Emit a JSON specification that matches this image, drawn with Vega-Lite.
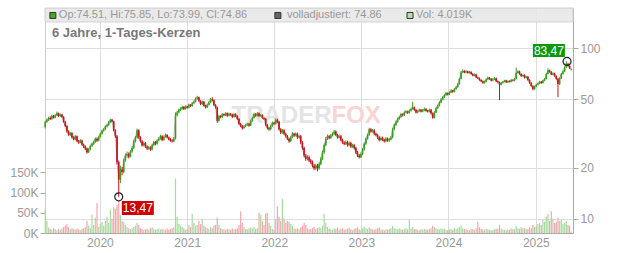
{
"$schema":"https://vega.github.io/schema/vega-lite/v6.json",
"width":528,"height":225,
"autosize":{"type":"none"},
"padding":{"left":45,"top":8,"right":59,"bottom":20},
"background":"#ffffff",
"config":{"view":{"stroke":"#cccccc"},"font":"Liberation Sans","axis":{"labelFont":"Liberation Sans","labelFontSize":12,"labelColor":"#999999","tickColor":"#aaaaaa","domainColor":"#aaaaaa","gridColor":"#dddddd"}},
"datasets":{"px":[
{"t":"2019-05-17","o":34.5,"h":37.5,"l":33.8,"c":37,"v":60},
{"t":"2019-05-24","o":37,"h":38.6,"l":36.5,"c":38,"v":30},
{"t":"2019-05-31","o":38,"h":39.6,"l":37.4,"c":39,"v":14},
{"t":"2019-06-07","o":39,"h":39.8,"l":37.9,"c":38.5,"v":10},
{"t":"2019-06-14","o":38.5,"h":40.7,"l":38,"c":40,"v":8},
{"t":"2019-06-21","o":40,"h":40.6,"l":38.7,"c":39.2,"v":12},
{"t":"2019-06-28","o":39.2,"h":41,"l":38.8,"c":40.5,"v":9},
{"t":"2019-07-05","o":40.5,"h":42.5,"l":40,"c":41.5,"v":7},
{"t":"2019-07-12","o":41.5,"h":41.9,"l":39.5,"c":40,"v":10},
{"t":"2019-07-19","o":40,"h":41.4,"l":39.6,"c":40.8,"v":8},
{"t":"2019-07-26","o":40.8,"h":41.2,"l":39,"c":39.5,"v":11},
{"t":"2019-08-02","o":39.5,"h":39.9,"l":36.5,"c":37,"v":15},
{"t":"2019-08-09","o":37,"h":37.5,"l":34.5,"c":35,"v":18},
{"t":"2019-08-16","o":35,"h":35.4,"l":32,"c":32.5,"v":22},
{"t":"2019-08-23","o":32.5,"h":33,"l":30.6,"c":31,"v":14},
{"t":"2019-08-30","o":31,"h":32.3,"l":30.6,"c":31.8,"v":9},
{"t":"2019-09-06","o":31.8,"h":32.2,"l":29.6,"c":30,"v":12},
{"t":"2019-09-13","o":30,"h":30.5,"l":28.8,"c":29.2,"v":10},
{"t":"2019-09-20","o":29.2,"h":31,"l":28.9,"c":30.5,"v":8},
{"t":"2019-09-27","o":30.5,"h":30.8,"l":28.1,"c":28.5,"v":11},
{"t":"2019-10-04","o":28.5,"h":29,"l":27.5,"c":28,"v":9},
{"t":"2019-10-11","o":28,"h":29.3,"l":27.7,"c":28.8,"v":7},
{"t":"2019-10-18","o":28.8,"h":29.1,"l":26.8,"c":27.2,"v":10},
{"t":"2019-10-25","o":27.2,"h":27.6,"l":26,"c":26.5,"v":12},
{"t":"2019-11-01","o":26.5,"h":26.9,"l":25.3,"c":25.8,"v":14},
{"t":"2019-11-08","o":25.8,"h":26.2,"l":24.1,"c":24.6,"v":30},
{"t":"2019-11-15","o":24.6,"h":26,"l":24.3,"c":25.5,"v":18},
{"t":"2019-11-22","o":25.5,"h":27.2,"l":25.2,"c":26.8,"v":12},
{"t":"2019-11-29","o":26.8,"h":28,"l":26.4,"c":27.5,"v":45},
{"t":"2019-12-06","o":27.5,"h":28.7,"l":27.1,"c":28.2,"v":20},
{"t":"2019-12-13","o":28.2,"h":30,"l":27.9,"c":29.5,"v":38},
{"t":"2019-12-20","o":29.5,"h":30,"l":28.2,"c":28.8,"v":74},
{"t":"2019-12-27","o":28.8,"h":30.7,"l":28.5,"c":30.2,"v":15},
{"t":"2020-01-03","o":30.2,"h":32,"l":29.9,"c":31.5,"v":22},
{"t":"2020-01-10","o":31.5,"h":33.3,"l":31.1,"c":32.8,"v":28},
{"t":"2020-01-17","o":32.8,"h":34,"l":32.4,"c":33.5,"v":18},
{"t":"2020-01-24","o":33.5,"h":35.3,"l":33.1,"c":34.8,"v":30},
{"t":"2020-01-31","o":34.8,"h":36.1,"l":34.3,"c":35.5,"v":40},
{"t":"2020-02-07","o":35.5,"h":37.4,"l":35.1,"c":36.8,"v":25},
{"t":"2020-02-14","o":36.8,"h":38.6,"l":36.3,"c":38,"v":57},
{"t":"2020-02-21","o":38,"h":38.5,"l":36.7,"c":37.2,"v":35},
{"t":"2020-02-28","o":37.2,"h":37.6,"l":32.5,"c":33,"v":64},
{"t":"2020-03-06","o":33,"h":33.5,"l":29.8,"c":30.5,"v":60},
{"t":"2020-03-13","o":30.5,"h":31,"l":20.8,"c":21.5,"v":70},
{"t":"2020-03-20","o":21.5,"h":22,"l":13.47,"c":17,"v":81},
{"t":"2020-03-27","o":17,"h":20.5,"l":16.2,"c":19.5,"v":45},
{"t":"2020-04-03","o":19.5,"h":20.2,"l":18,"c":18.8,"v":30},
{"t":"2020-04-10","o":18.8,"h":22.6,"l":18.5,"c":22,"v":28},
{"t":"2020-04-17","o":22,"h":24.2,"l":21.6,"c":23.5,"v":20},
{"t":"2020-04-24","o":23.5,"h":24.8,"l":22.8,"c":24,"v":15},
{"t":"2020-05-01","o":24,"h":24.5,"l":22.6,"c":23.2,"v":12},
{"t":"2020-05-08","o":23.2,"h":25.3,"l":22.9,"c":24.8,"v":10},
{"t":"2020-05-15","o":24.8,"h":26.6,"l":24.4,"c":26,"v":12},
{"t":"2020-05-22","o":26,"h":29.1,"l":25.7,"c":28.5,"v":15},
{"t":"2020-05-29","o":28.5,"h":30.6,"l":28,"c":30,"v":18},
{"t":"2020-06-05","o":30,"h":33.8,"l":29.6,"c":33,"v":25},
{"t":"2020-06-12","o":33,"h":33.5,"l":29.4,"c":30,"v":20},
{"t":"2020-06-19","o":30,"h":30.5,"l":28,"c":28.5,"v":12},
{"t":"2020-06-26","o":28.5,"h":29,"l":26.5,"c":27,"v":10},
{"t":"2020-07-03","o":27,"h":28.4,"l":26.6,"c":27.8,"v":8},
{"t":"2020-07-10","o":27.8,"h":28.2,"l":26,"c":26.5,"v":9},
{"t":"2020-07-17","o":26.5,"h":27,"l":25.3,"c":25.8,"v":10},
{"t":"2020-07-24","o":25.8,"h":26.8,"l":25.4,"c":26.2,"v":8},
{"t":"2020-07-31","o":26.2,"h":26.6,"l":25,"c":25.5,"v":12},
{"t":"2020-08-07","o":25.5,"h":27.5,"l":25.2,"c":27,"v":14},
{"t":"2020-08-14","o":27,"h":28.7,"l":26.7,"c":28.2,"v":10},
{"t":"2020-08-21","o":28.2,"h":28.6,"l":27,"c":27.5,"v":8},
{"t":"2020-08-28","o":27.5,"h":29.3,"l":27.2,"c":28.8,"v":9},
{"t":"2020-09-04","o":28.8,"h":30.1,"l":28.4,"c":29.5,"v":11},
{"t":"2020-09-11","o":29.5,"h":31.1,"l":29.1,"c":30.5,"v":9},
{"t":"2020-09-18","o":30.5,"h":30.9,"l":28.5,"c":29,"v":10},
{"t":"2020-09-25","o":29,"h":30.8,"l":28.7,"c":30.2,"v":8},
{"t":"2020-10-02","o":30.2,"h":31.6,"l":29.9,"c":31,"v":9},
{"t":"2020-10-09","o":31,"h":31.4,"l":29.6,"c":30,"v":11},
{"t":"2020-10-16","o":30,"h":30.4,"l":28.8,"c":29.2,"v":8},
{"t":"2020-10-23","o":29.2,"h":29.7,"l":28.3,"c":28.8,"v":10},
{"t":"2020-10-30","o":28.8,"h":29.3,"l":28,"c":28.5,"v":12},
{"t":"2020-11-06","o":28.5,"h":30.1,"l":28.2,"c":29.5,"v":14},
{"t":"2020-11-13","o":29.5,"h":42,"l":29.2,"c":40.5,"v":135},
{"t":"2020-11-20","o":40.5,"h":42.8,"l":39.8,"c":42,"v":40},
{"t":"2020-11-27","o":42,"h":44.3,"l":41.5,"c":43.5,"v":22},
{"t":"2020-12-04","o":43.5,"h":45,"l":42.8,"c":44,"v":18},
{"t":"2020-12-11","o":44,"h":46,"l":43.5,"c":45.2,"v":15},
{"t":"2020-12-18","o":45.2,"h":45.8,"l":43.4,"c":44,"v":12},
{"t":"2020-12-25","o":44,"h":46.2,"l":43.6,"c":45.5,"v":8},
{"t":"2021-01-01","o":45.5,"h":46,"l":44.2,"c":44.8,"v":10},
{"t":"2021-01-08","o":44.8,"h":47.3,"l":44.3,"c":46.5,"v":20},
{"t":"2021-01-15","o":46.5,"h":47,"l":45.2,"c":45.8,"v":15},
{"t":"2021-01-22","o":45.8,"h":48.3,"l":45.3,"c":47.5,"v":47},
{"t":"2021-01-29","o":47.5,"h":49.3,"l":47,"c":48.5,"v":25},
{"t":"2021-02-05","o":48.5,"h":51.4,"l":48,"c":50.5,"v":18},
{"t":"2021-02-12","o":50.5,"h":52.5,"l":50,"c":51.5,"v":20},
{"t":"2021-02-19","o":51.5,"h":52,"l":48.4,"c":49,"v":30},
{"t":"2021-02-26","o":49,"h":49.5,"l":46.3,"c":47,"v":22},
{"t":"2021-03-05","o":47,"h":49.3,"l":46.5,"c":48.5,"v":35},
{"t":"2021-03-12","o":48.5,"h":49,"l":45.4,"c":46,"v":18},
{"t":"2021-03-19","o":46,"h":46.6,"l":44.3,"c":45,"v":14},
{"t":"2021-03-26","o":45,"h":47.3,"l":44.6,"c":46.5,"v":12},
{"t":"2021-04-02","o":46.5,"h":48.8,"l":46,"c":48,"v":10},
{"t":"2021-04-09","o":48,"h":51,"l":47.5,"c":50,"v":15},
{"t":"2021-04-16","o":50,"h":51.5,"l":48.8,"c":49.5,"v":12},
{"t":"2021-04-23","o":49.5,"h":50,"l":45.8,"c":46.5,"v":18},
{"t":"2021-04-30","o":46.5,"h":47,"l":44.2,"c":45,"v":20},
{"t":"2021-05-07","o":45,"h":45.5,"l":36.5,"c":37.5,"v":38},
{"t":"2021-05-14","o":37.5,"h":40.6,"l":37,"c":40,"v":20},
{"t":"2021-05-21","o":40,"h":40.5,"l":38.8,"c":39.5,"v":12},
{"t":"2021-05-28","o":39.5,"h":41.6,"l":39,"c":41,"v":10},
{"t":"2021-06-04","o":41,"h":41.5,"l":39.9,"c":40.5,"v":9},
{"t":"2021-06-11","o":40.5,"h":42.2,"l":40,"c":41.5,"v":8},
{"t":"2021-06-18","o":41.5,"h":42,"l":39.6,"c":40.2,"v":10},
{"t":"2021-06-25","o":40.2,"h":41.8,"l":39.8,"c":41.2,"v":9},
{"t":"2021-07-02","o":41.2,"h":41.7,"l":40.2,"c":40.8,"v":8},
{"t":"2021-07-09","o":40.8,"h":41.3,"l":38.9,"c":39.5,"v":11},
{"t":"2021-07-16","o":39.5,"h":41.6,"l":39.1,"c":41,"v":9},
{"t":"2021-07-23","o":41,"h":41.5,"l":39.4,"c":40,"v":10},
{"t":"2021-07-30","o":40,"h":40.5,"l":37.9,"c":38.5,"v":12},
{"t":"2021-08-06","o":38.5,"h":39,"l":35.4,"c":36,"v":20},
{"t":"2021-08-13","o":36,"h":36.5,"l":34.4,"c":35,"v":54},
{"t":"2021-08-20","o":35,"h":35.5,"l":33.3,"c":34,"v":25},
{"t":"2021-08-27","o":34,"h":35.4,"l":33.6,"c":34.8,"v":14},
{"t":"2021-09-03","o":34.8,"h":36.1,"l":34.4,"c":35.5,"v":10},
{"t":"2021-09-10","o":35.5,"h":36.6,"l":35,"c":36,"v":9},
{"t":"2021-09-17","o":36,"h":36.5,"l":34.6,"c":35.2,"v":11},
{"t":"2021-09-24","o":35.2,"h":38.1,"l":34.9,"c":37.5,"v":14},
{"t":"2021-10-01","o":37.5,"h":39.7,"l":37,"c":39,"v":12},
{"t":"2021-10-08","o":39,"h":41.8,"l":38.6,"c":41,"v":15},
{"t":"2021-10-15","o":41,"h":41.6,"l":39.6,"c":40.2,"v":10},
{"t":"2021-10-22","o":40.2,"h":42.2,"l":39.8,"c":41.5,"v":12},
{"t":"2021-10-29","o":41.5,"h":42,"l":39.4,"c":40,"v":50},
{"t":"2021-11-05","o":40,"h":41.2,"l":39.6,"c":40.5,"v":45},
{"t":"2021-11-12","o":40.5,"h":41,"l":38.5,"c":39,"v":30},
{"t":"2021-11-19","o":39,"h":39.5,"l":37.9,"c":38.5,"v":20},
{"t":"2021-11-26","o":38.5,"h":39,"l":34.8,"c":35.5,"v":48},
{"t":"2021-12-03","o":35.5,"h":36,"l":33.4,"c":34,"v":50},
{"t":"2021-12-10","o":34,"h":34.6,"l":32.8,"c":33.5,"v":25},
{"t":"2021-12-17","o":33.5,"h":35.6,"l":33.1,"c":35,"v":18},
{"t":"2021-12-24","o":35,"h":37.2,"l":34.6,"c":36.5,"v":10},
{"t":"2021-12-31","o":36.5,"h":37,"l":35.4,"c":36,"v":8},
{"t":"2022-01-07","o":36,"h":38.8,"l":35.6,"c":38,"v":35},
{"t":"2022-01-14","o":38,"h":38.6,"l":36.4,"c":37,"v":66},
{"t":"2022-01-21","o":37,"h":37.5,"l":32.9,"c":33.5,"v":40},
{"t":"2022-01-28","o":33.5,"h":34,"l":31.4,"c":32,"v":30},
{"t":"2022-02-04","o":32,"h":33.6,"l":31.5,"c":33,"v":84},
{"t":"2022-02-11","o":33,"h":33.5,"l":30.9,"c":31.5,"v":35},
{"t":"2022-02-18","o":31.5,"h":32,"l":29.9,"c":30.5,"v":25},
{"t":"2022-02-25","o":30.5,"h":31,"l":28.9,"c":29.5,"v":30},
{"t":"2022-03-04","o":29.5,"h":30,"l":27.9,"c":28.5,"v":28},
{"t":"2022-03-11","o":28.5,"h":30.6,"l":28.1,"c":30,"v":22},
{"t":"2022-03-18","o":30,"h":32.2,"l":29.6,"c":31.5,"v":18},
{"t":"2022-03-25","o":31.5,"h":32,"l":30.2,"c":30.8,"v":12},
{"t":"2022-04-01","o":30.8,"h":32.1,"l":30.4,"c":31.5,"v":10},
{"t":"2022-04-08","o":31.5,"h":32,"l":29.4,"c":30,"v":12},
{"t":"2022-04-15","o":30,"h":31.1,"l":29.6,"c":30.5,"v":9},
{"t":"2022-04-22","o":30.5,"h":31,"l":27.4,"c":28,"v":14},
{"t":"2022-04-29","o":28,"h":28.5,"l":25.4,"c":26,"v":18},
{"t":"2022-05-06","o":26,"h":26.5,"l":22.9,"c":23.5,"v":25},
{"t":"2022-05-13","o":23.5,"h":24,"l":21.9,"c":22.5,"v":20},
{"t":"2022-05-20","o":22.5,"h":23.6,"l":22,"c":23,"v":12},
{"t":"2022-05-27","o":23,"h":23.5,"l":21.5,"c":22,"v":10},
{"t":"2022-06-03","o":22,"h":22.5,"l":21,"c":21.5,"v":9},
{"t":"2022-06-10","o":21.5,"h":22,"l":20,"c":20.5,"v":12},
{"t":"2022-06-17","o":20.5,"h":21,"l":19.3,"c":19.8,"v":15},
{"t":"2022-06-24","o":19.8,"h":21,"l":19.4,"c":20.5,"v":10},
{"t":"2022-07-01","o":20.5,"h":21,"l":19,"c":19.8,"v":12},
{"t":"2022-07-08","o":19.8,"h":21.5,"l":19.4,"c":21,"v":14},
{"t":"2022-07-15","o":21,"h":23,"l":20.6,"c":22.5,"v":12},
{"t":"2022-07-22","o":22.5,"h":25.1,"l":22.1,"c":24.5,"v":18},
{"t":"2022-07-29","o":24.5,"h":27.6,"l":24.1,"c":27,"v":47},
{"t":"2022-08-05","o":27,"h":30.2,"l":26.6,"c":29.5,"v":25},
{"t":"2022-08-12","o":29.5,"h":31.2,"l":29,"c":30.5,"v":15},
{"t":"2022-08-19","o":30.5,"h":31,"l":29.2,"c":29.8,"v":10},
{"t":"2022-08-26","o":29.8,"h":31.4,"l":29.4,"c":30.8,"v":9},
{"t":"2022-09-02","o":30.8,"h":32.1,"l":30.4,"c":31.5,"v":8},
{"t":"2022-09-09","o":31.5,"h":33.2,"l":31,"c":32.5,"v":12},
{"t":"2022-09-16","o":32.5,"h":33,"l":30.5,"c":31,"v":10},
{"t":"2022-09-23","o":31,"h":31.5,"l":29.5,"c":30,"v":14},
{"t":"2022-09-30","o":30,"h":31.1,"l":29.6,"c":30.5,"v":9},
{"t":"2022-10-07","o":30.5,"h":31,"l":28.5,"c":29,"v":10},
{"t":"2022-10-14","o":29,"h":29.5,"l":27.5,"c":28,"v":12},
{"t":"2022-10-21","o":28,"h":28.5,"l":27,"c":27.5,"v":8},
{"t":"2022-10-28","o":27.5,"h":28.8,"l":27.1,"c":28.2,"v":9},
{"t":"2022-11-04","o":28.2,"h":28.7,"l":26.5,"c":27,"v":11},
{"t":"2022-11-11","o":27,"h":28.4,"l":26.6,"c":27.8,"v":13},
{"t":"2022-11-18","o":27.8,"h":28.3,"l":26,"c":26.5,"v":9},
{"t":"2022-11-25","o":26.5,"h":27.5,"l":26.1,"c":27,"v":7},
{"t":"2022-12-02","o":27,"h":27.5,"l":25.5,"c":26,"v":10},
{"t":"2022-12-09","o":26,"h":26.5,"l":24,"c":24.5,"v":12},
{"t":"2022-12-16","o":24.5,"h":25,"l":23,"c":23.5,"v":14},
{"t":"2022-12-23","o":23.5,"h":24,"l":22.6,"c":23,"v":9},
{"t":"2022-12-30","o":23,"h":24.5,"l":22.7,"c":24,"v":8},
{"t":"2023-01-06","o":24,"h":26,"l":23.6,"c":25.5,"v":12},
{"t":"2023-01-13","o":25.5,"h":28,"l":25.1,"c":27.5,"v":15},
{"t":"2023-01-20","o":27.5,"h":30,"l":27.1,"c":29.5,"v":12},
{"t":"2023-01-27","o":29.5,"h":31.6,"l":29.1,"c":31,"v":10},
{"t":"2023-02-03","o":31,"h":34.2,"l":30.6,"c":33.5,"v":14},
{"t":"2023-02-10","o":33.5,"h":34,"l":31.9,"c":32.5,"v":10},
{"t":"2023-02-17","o":32.5,"h":33.6,"l":32,"c":33,"v":9},
{"t":"2023-02-24","o":33,"h":33.5,"l":30.9,"c":31.5,"v":8},
{"t":"2023-03-03","o":31.5,"h":32,"l":30.4,"c":31,"v":10},
{"t":"2023-03-10","o":31,"h":31.5,"l":29.4,"c":30,"v":12},
{"t":"2023-03-17","o":30,"h":30.5,"l":28.4,"c":29,"v":14},
{"t":"2023-03-24","o":29,"h":30.4,"l":28.6,"c":29.8,"v":9},
{"t":"2023-03-31","o":29.8,"h":30.3,"l":28.5,"c":29,"v":8},
{"t":"2023-04-07","o":29,"h":29.5,"l":28,"c":28.5,"v":7},
{"t":"2023-04-14","o":28.5,"h":30.1,"l":28.1,"c":29.5,"v":9},
{"t":"2023-04-21","o":29.5,"h":30,"l":28.3,"c":28.8,"v":8},
{"t":"2023-04-28","o":28.8,"h":29.8,"l":28.3,"c":29.2,"v":10},
{"t":"2023-05-05","o":29.2,"h":30.6,"l":28.8,"c":30,"v":12},
{"t":"2023-05-12","o":30,"h":34.2,"l":29.6,"c":33.5,"v":18},
{"t":"2023-05-19","o":33.5,"h":36.2,"l":33,"c":35.5,"v":12},
{"t":"2023-05-26","o":35.5,"h":37.7,"l":35,"c":37,"v":10},
{"t":"2023-06-02","o":37,"h":39.2,"l":36.5,"c":38.5,"v":9},
{"t":"2023-06-09","o":38.5,"h":40.2,"l":38,"c":39.5,"v":11},
{"t":"2023-06-16","o":39.5,"h":41.8,"l":39,"c":41,"v":9},
{"t":"2023-06-23","o":41,"h":41.5,"l":39.8,"c":40.5,"v":8},
{"t":"2023-06-30","o":40.5,"h":42.7,"l":40,"c":42,"v":10},
{"t":"2023-07-07","o":42,"h":43.3,"l":41.4,"c":42.5,"v":12},
{"t":"2023-07-14","o":42.5,"h":43,"l":41.2,"c":41.8,"v":9},
{"t":"2023-07-21","o":41.8,"h":43.7,"l":41.3,"c":43,"v":34},
{"t":"2023-07-28","o":43,"h":44.8,"l":42.5,"c":44,"v":12},
{"t":"2023-08-04","o":44,"h":48.5,"l":43.5,"c":45,"v":15},
{"t":"2023-08-11","o":45,"h":45.5,"l":42.9,"c":43.5,"v":10},
{"t":"2023-08-18","o":43.5,"h":44,"l":41.4,"c":42,"v":9},
{"t":"2023-08-25","o":42,"h":43.5,"l":41.5,"c":42.8,"v":8},
{"t":"2023-09-01","o":42.8,"h":44.2,"l":42.3,"c":43.5,"v":7},
{"t":"2023-09-08","o":43.5,"h":44,"l":42,"c":42.5,"v":9},
{"t":"2023-09-15","o":42.5,"h":44,"l":42,"c":43.2,"v":8},
{"t":"2023-09-22","o":43.2,"h":44.8,"l":42.7,"c":44,"v":10},
{"t":"2023-09-29","o":44,"h":44.5,"l":42.4,"c":43,"v":9},
{"t":"2023-10-06","o":43,"h":43.5,"l":41.9,"c":42.5,"v":8},
{"t":"2023-10-13","o":42.5,"h":44.2,"l":42,"c":43.5,"v":10},
{"t":"2023-10-20","o":43.5,"h":44,"l":40.9,"c":41.5,"v":12},
{"t":"2023-10-27","o":41.5,"h":42,"l":38.6,"c":39,"v":18},
{"t":"2023-11-03","o":39,"h":42.7,"l":38.7,"c":42,"v":15},
{"t":"2023-11-10","o":42,"h":45.2,"l":41.6,"c":44.5,"v":12},
{"t":"2023-11-17","o":44.5,"h":46.7,"l":44,"c":46,"v":10},
{"t":"2023-11-24","o":46,"h":48.8,"l":45.5,"c":48,"v":9},
{"t":"2023-12-01","o":48,"h":50.8,"l":47.5,"c":50,"v":12},
{"t":"2023-12-08","o":50,"h":52.3,"l":49.4,"c":51.5,"v":10},
{"t":"2023-12-15","o":51.5,"h":53.8,"l":51,"c":53,"v":11},
{"t":"2023-12-22","o":53,"h":55.3,"l":52.5,"c":54.5,"v":8},
{"t":"2023-12-29","o":54.5,"h":55,"l":52.8,"c":53.5,"v":7},
{"t":"2024-01-05","o":53.5,"h":55.8,"l":53,"c":55,"v":9},
{"t":"2024-01-12","o":55,"h":57.4,"l":54.5,"c":56.5,"v":10},
{"t":"2024-01-19","o":56.5,"h":57,"l":54.8,"c":55.5,"v":8},
{"t":"2024-01-26","o":55.5,"h":58.4,"l":55,"c":57.5,"v":12},
{"t":"2024-02-02","o":57.5,"h":60,"l":57,"c":59,"v":10},
{"t":"2024-02-09","o":59,"h":62.5,"l":58.5,"c":61.5,"v":12},
{"t":"2024-02-16","o":61.5,"h":67,"l":61,"c":66,"v":15},
{"t":"2024-02-23","o":66,"h":73.5,"l":65.5,"c":72,"v":18},
{"t":"2024-03-01","o":72,"h":75,"l":71.3,"c":73.5,"v":12},
{"t":"2024-03-08","o":73.5,"h":74.2,"l":71.2,"c":72,"v":10},
{"t":"2024-03-15","o":72,"h":74.2,"l":71.3,"c":73,"v":9},
{"t":"2024-03-22","o":73,"h":73.7,"l":70.8,"c":71.5,"v":8},
{"t":"2024-03-29","o":71.5,"h":73.5,"l":70.8,"c":72.5,"v":7},
{"t":"2024-04-05","o":72.5,"h":73.2,"l":69.8,"c":70.5,"v":9},
{"t":"2024-04-12","o":70.5,"h":71.2,"l":68.3,"c":69,"v":10},
{"t":"2024-04-19","o":69,"h":71,"l":68.3,"c":70,"v":8},
{"t":"2024-04-26","o":70,"h":70.7,"l":66.8,"c":67.5,"v":12},
{"t":"2024-05-03","o":67.5,"h":68.2,"l":65.8,"c":66.5,"v":28},
{"t":"2024-05-10","o":66.5,"h":67.2,"l":64.3,"c":65,"v":14},
{"t":"2024-05-17","o":65,"h":65.7,"l":63.3,"c":64,"v":10},
{"t":"2024-05-24","o":64,"h":64.7,"l":61.8,"c":62.5,"v":9},
{"t":"2024-05-31","o":62.5,"h":64.5,"l":61.8,"c":63.5,"v":8},
{"t":"2024-06-07","o":63.5,"h":66.5,"l":62.9,"c":65.5,"v":10},
{"t":"2024-06-14","o":65.5,"h":68,"l":64.9,"c":67,"v":9},
{"t":"2024-06-21","o":67,"h":67.7,"l":65.3,"c":66,"v":8},
{"t":"2024-06-28","o":66,"h":66.7,"l":63.8,"c":64.5,"v":7},
{"t":"2024-07-05","o":64.5,"h":66.5,"l":63.9,"c":65.5,"v":8},
{"t":"2024-07-12","o":65.5,"h":67.5,"l":64.9,"c":66.5,"v":9},
{"t":"2024-07-19","o":66.5,"h":67.2,"l":63.3,"c":64,"v":11},
{"t":"2024-07-26","o":64,"h":64.7,"l":62.3,"c":63,"v":10},
{"t":"2024-08-02","o":63,"h":63.7,"l":49.6,"c":61,"v":20},
{"t":"2024-08-09","o":61,"h":63.3,"l":60.4,"c":62.5,"v":12},
{"t":"2024-08-16","o":62.5,"h":64.2,"l":61.9,"c":63.5,"v":9},
{"t":"2024-08-23","o":63.5,"h":65.2,"l":62.9,"c":64.5,"v":8},
{"t":"2024-08-30","o":64.5,"h":65.2,"l":62.4,"c":63,"v":7},
{"t":"2024-09-06","o":63,"h":64.8,"l":62.4,"c":64,"v":9},
{"t":"2024-09-13","o":64,"h":64.7,"l":62.8,"c":63.5,"v":8},
{"t":"2024-09-20","o":63.5,"h":65.8,"l":62.9,"c":65,"v":12},
{"t":"2024-09-27","o":65,"h":65.7,"l":63.8,"c":64.5,"v":9},
{"t":"2024-10-04","o":64.5,"h":66.8,"l":63.9,"c":66,"v":10},
{"t":"2024-10-11","o":66,"h":77,"l":65.4,"c":71.5,"v":18},
{"t":"2024-10-18","o":71.5,"h":74,"l":70.8,"c":73,"v":12},
{"t":"2024-10-25","o":73,"h":73.7,"l":69.8,"c":70.5,"v":10},
{"t":"2024-11-01","o":70.5,"h":71.2,"l":67.8,"c":68.5,"v":14},
{"t":"2024-11-08","o":68.5,"h":70.3,"l":67.9,"c":69.5,"v":11},
{"t":"2024-11-15","o":69.5,"h":70.2,"l":66.3,"c":67,"v":12},
{"t":"2024-11-22","o":67,"h":68.8,"l":66.4,"c":68,"v":9},
{"t":"2024-11-29","o":68,"h":68.7,"l":64.3,"c":65,"v":10},
{"t":"2024-12-06","o":65,"h":65.7,"l":61.8,"c":62.5,"v":14},
{"t":"2024-12-13","o":62.5,"h":63.2,"l":59.3,"c":60,"v":12},
{"t":"2024-12-20","o":60,"h":60.7,"l":56.5,"c":57.5,"v":20},
{"t":"2024-12-27","o":57.5,"h":60.3,"l":56.9,"c":59.5,"v":15},
{"t":"2025-01-03","o":59.5,"h":61.8,"l":58.9,"c":61,"v":18},
{"t":"2025-01-10","o":61,"h":62.8,"l":60.4,"c":62,"v":22},
{"t":"2025-01-17","o":62,"h":64.3,"l":61.4,"c":63.5,"v":25},
{"t":"2025-01-24","o":63.5,"h":64.2,"l":61.8,"c":62.5,"v":20},
{"t":"2025-01-31","o":62.5,"h":65.3,"l":61.9,"c":64.5,"v":32},
{"t":"2025-02-07","o":64.5,"h":66.8,"l":63.9,"c":66,"v":28},
{"t":"2025-02-14","o":66,"h":71.5,"l":65.4,"c":70.5,"v":40},
{"t":"2025-02-21","o":70.5,"h":76,"l":70,"c":74,"v":47},
{"t":"2025-02-28","o":74,"h":74.8,"l":71.8,"c":72.5,"v":30},
{"t":"2025-03-07","o":72.5,"h":73.3,"l":69.3,"c":70,"v":54},
{"t":"2025-03-14","o":70,"h":72,"l":69.3,"c":71,"v":35},
{"t":"2025-03-21","o":71,"h":71.7,"l":67.8,"c":68.5,"v":25},
{"t":"2025-03-28","o":68.5,"h":69.2,"l":65.3,"c":66,"v":28},
{"t":"2025-04-04","o":66,"h":66.7,"l":51.6,"c":61.5,"v":38},
{"t":"2025-04-11","o":61.5,"h":67.5,"l":60.8,"c":66.5,"v":30},
{"t":"2025-04-18","o":66.5,"h":71.5,"l":65.8,"c":70.5,"v":32},
{"t":"2025-04-25","o":70.5,"h":74,"l":69.8,"c":73,"v":22},
{"t":"2025-05-02","o":73,"h":78,"l":72.3,"c":77,"v":25},
{"t":"2025-05-09","o":77,"h":83.47,"l":76.3,"c":81,"v":30},
{"t":"2025-05-16","o":81,"h":81.8,"l":77.8,"c":78.5,"v":20},
{"t":"2025-05-23","o":78.5,"h":79.3,"l":75.3,"c":76,"v":18},
{"t":"2025-05-30","o":74.51,"h":75.85,"l":73.99,"c":74.86,"v":4.019}
]},
"data":{"name":"px"},
"layer":[
{"mark":{"type":"bar","size":1.2},
 "encoding":{
  "x":{"field":"t","type":"temporal","scale":{"domain":[{"year":2019,"month":5,"date":16},{"year":2025,"month":6,"date":6}],"padding":0},
       "axis":{"orient":"bottom","title":null,"values":[{"year":2020,"month":1,"date":1},{"year":2021,"month":1,"date":1},{"year":2022,"month":1,"date":1},{"year":2023,"month":1,"date":1},{"year":2024,"month":1,"date":1},{"year":2025,"month":1,"date":1}],"format":"%Y","grid":true,"ticks":false,"domain":true,"labelPadding":4,"labelFlush":false}},
  "y":{"field":"v","type":"quantitative","scale":{"domain":[0,557],"nice":false,"zero":true},
       "axis":{"orient":"left","title":null,"values":[0,50,100,150],"labelExpr":"datum.value + 'K'","grid":false,"domain":false,"ticks":true,"tickSize":5,"labelPadding":2}},
  "color":{"condition":{"test":"datum.c >= datum.o","value":"#a9d9a1"},"value":"#f2a6ad"}
 }},
{"layer":[
 {"mark":{"type":"line","color":"#999999","strokeWidth":1,"opacity":0.6},
  "encoding":{"x":{"field":"t","type":"temporal","scale":{"domain":[{"year":2019,"month":5,"date":16},{"year":2025,"month":6,"date":6}],"padding":0}},
   "y":{"field":"c","type":"quantitative","scale":{"type":"log","domain":[8.28,171.4],"nice":false},
        "axis":{"orient":"right","title":null,"values":[10,20,50,100],"format":"d","grid":true,"domain":true,"ticks":true,"tickSize":5,"labelPadding":2}}}},
 {"data":{"values":[{}]},"mark":{"type":"rect","fill":"#e6e6e6","fillOpacity":0.85,"stroke":"#d2d2d2","strokeWidth":1},
  "encoding":{"x":{"datum":{"year":2019,"month":5,"date":16},"type":"temporal"},"x2":{"datum":{"year":2025,"month":6,"date":6}},
   "y":{"datum":171.4,"type":"quantitative","scale":{"type":"log","domain":[8.28,171.4],"nice":false}},"y2":{"datum":142}}},
 {"data":{"values":[{}]},"mark":{"type":"text","text":"TRADER","align":"right","baseline":"middle","fontSize":24,"fontWeight":"bold","color":"#e4e4e4"},
  "encoding":{"x":{"datum":{"year":2022,"month":8,"date":29},"type":"temporal"},"y":{"datum":40,"type":"quantitative","scale":{"type":"log","domain":[8.28,171.4],"nice":false}}}},
 {"data":{"values":[{}]},"mark":{"type":"text","text":"FOX","align":"left","baseline":"middle","fontSize":24,"fontWeight":"bold","color":"#f9d4d4"},
  "encoding":{"x":{"datum":{"year":2022,"month":8,"date":29},"type":"temporal"},"y":{"datum":40,"type":"quantitative","scale":{"type":"log","domain":[8.28,171.4],"nice":false}}}},
 {"mark":{"type":"rule","strokeWidth":1},
  "encoding":{"x":{"field":"t","type":"temporal"},
   "y":{"field":"l","type":"quantitative","scale":{"type":"log","domain":[8.28,171.4],"nice":false}},"y2":{"field":"h"},
   "color":{"condition":{"test":"datum.c >= datum.o","value":"#3c9e22"},"value":"#c4161c"}}},
 {"mark":{"type":"bar","size":1.6},
  "encoding":{"x":{"field":"t","type":"temporal"},
   "y":{"field":"o","type":"quantitative","scale":{"type":"log","domain":[8.28,171.4],"nice":false}},"y2":{"field":"c"},
   "color":{"condition":{"test":"datum.c >= datum.o","value":"#3c9e22"},"value":"#c4161c"}}},
 {"data":{"values":[{}]},"mark":{"type":"point","shape":"square","size":36,"filled":true,"fill":"#44aa22","stroke":"#333333","strokeWidth":1,"opacity":1},
  "encoding":{"x":{"datum":{"year":2019,"month":6,"date":18},"type":"temporal"},"y":{"datum":155,"type":"quantitative","scale":{"type":"log","domain":[8.28,171.4],"nice":false}}}},
 {"data":{"values":[{}]},"mark":{"type":"point","shape":"square","size":36,"filled":true,"fill":"#666666","stroke":"#333333","strokeWidth":1,"opacity":1},
  "encoding":{"x":{"datum":{"year":2022,"month":1,"date":16},"type":"temporal"},"y":{"datum":155,"type":"quantitative","scale":{"type":"log","domain":[8.28,171.4],"nice":false}}}},
 {"data":{"values":[{}]},"mark":{"type":"point","shape":"square","size":36,"filled":true,"fill":"#b3e0ab","stroke":"#333333","strokeWidth":1,"opacity":1},
  "encoding":{"x":{"datum":{"year":2023,"month":7,"date":24},"type":"temporal"},"y":{"datum":155,"type":"quantitative","scale":{"type":"log","domain":[8.28,171.4],"nice":false}}}},
 {"data":{"values":[{}]},"mark":{"type":"text","text":"Op:74.51, Hi:75.85, Lo:73.99, Cl:74.86","align":"left","baseline":"middle","fontSize":11,"color":"#999999"},
  "encoding":{"x":{"datum":{"year":2019,"month":7,"date":13},"type":"temporal"},"y":{"datum":155,"type":"quantitative","scale":{"type":"log","domain":[8.28,171.4],"nice":false}}}},
 {"data":{"values":[{}]},"mark":{"type":"text","text":"volladjustiert: 74.86","align":"left","baseline":"middle","fontSize":11,"color":"#999999"},
  "encoding":{"x":{"datum":{"year":2022,"month":2,"date":23},"type":"temporal"},"y":{"datum":155,"type":"quantitative","scale":{"type":"log","domain":[8.28,171.4],"nice":false}}}},
 {"data":{"values":[{}]},"mark":{"type":"text","text":"Vol: 4.019K","align":"left","baseline":"middle","fontSize":11,"color":"#999999"},
  "encoding":{"x":{"datum":{"year":2023,"month":8,"date":18},"type":"temporal"},"y":{"datum":155,"type":"quantitative","scale":{"type":"log","domain":[8.28,171.4],"nice":false}}}},
 {"data":{"values":[{}]},"mark":{"type":"text","text":"6 Jahre, 1-Tages-Kerzen","align":"left","baseline":"middle","fontSize":13,"fontWeight":"bold","color":"#777777"},
  "encoding":{"x":{"datum":{"year":2019,"month":6,"date":14},"type":"temporal"},"y":{"datum":122.4,"type":"quantitative","scale":{"type":"log","domain":[8.28,171.4],"nice":false}}}},
 {"data":{"values":[{}]},"mark":{"type":"point","shape":"circle","size":64,"filled":false,"stroke":"#222222","strokeWidth":1.2,"opacity":1},
  "encoding":{"x":{"datum":{"year":2020,"month":3,"date":20},"type":"temporal"},"y":{"datum":13.47,"type":"quantitative","scale":{"type":"log","domain":[8.28,171.4],"nice":false}}}},
 {"data":{"values":[{}]},"mark":{"type":"point","shape":"circle","size":64,"filled":false,"stroke":"#222222","strokeWidth":1.2,"opacity":1},
  "encoding":{"x":{"datum":{"year":2025,"month":5,"date":12},"type":"temporal"},"y":{"datum":83.47,"type":"quantitative","scale":{"type":"log","domain":[8.28,171.4],"nice":false}}}},
 {"data":{"values":[{}]},"mark":{"type":"rect","fill":"#cc0000"},
  "encoding":{"x":{"datum":{"year":2020,"month":4,"date":2},"type":"temporal"},"x2":{"datum":{"year":2020,"month":8,"date":14}},
   "y":{"datum":12.74,"type":"quantitative","scale":{"type":"log","domain":[8.28,171.4],"nice":false}},"y2":{"datum":10.55}}},
 {"data":{"values":[{}]},"mark":{"type":"text","text":"13,47","align":"center","baseline":"middle","fontSize":12,"color":"#ffffff"},
  "encoding":{"x":{"datum":{"year":2020,"month":6,"date":8},"type":"temporal"},"y":{"datum":11.6,"type":"quantitative","scale":{"type":"log","domain":[8.28,171.4],"nice":false}}}},
 {"data":{"values":[{}]},"mark":{"type":"rect","fill":"#0a990a"},
  "encoding":{"x":{"datum":{"year":2024,"month":12,"date":20},"type":"temporal"},"x2":{"datum":{"year":2025,"month":5,"date":3}},
   "y":{"datum":105.5,"type":"quantitative","scale":{"type":"log","domain":[8.28,171.4],"nice":false}},"y2":{"datum":88.6}}},
 {"data":{"values":[{}]},"mark":{"type":"text","text":"83,47","align":"center","baseline":"middle","fontSize":12,"color":"#ffffff"},
  "encoding":{"x":{"datum":{"year":2025,"month":2,"date":25},"type":"temporal"},"y":{"datum":96.7,"type":"quantitative","scale":{"type":"log","domain":[8.28,171.4],"nice":false}}}}
]}
],
"resolve":{"scale":{"y":"independent"}}
}
